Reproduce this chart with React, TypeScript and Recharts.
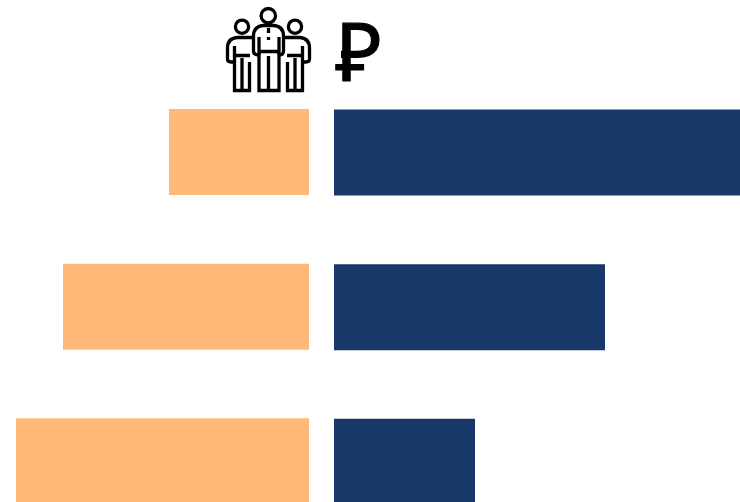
import { BarChart, Bar, XAxis, YAxis } from "recharts";

const categories = ["A", "B", "C"];
const peopleValues = [14.0, 24.6, 29.3];
const moneyValues = [40.6, 27.1, 14.1];

const chartData = categories.map((name, i) => ({
  name,
  people: peopleValues[i],
  money: moneyValues[i],
}));

const CHART_HEIGHT = 540;

function PersonSide({ flip }: { flip?: boolean }) {
  return (
    <g transform={flip ? "translate(537,0) scale(-1,1)" : undefined}>
      <circle cx={242} cy={26.7} r={6.6} />
      <path d="M252,37.5 L237,37.5 Q227.5,38.5 227.5,48 L227.5,59 Q227.5,62 231,62 L234,62 M234.5,46 L234.5,90.5 L249.5,90.5 L249.5,62 M234.5,55.5 L250,55.5 M242,58 L242,90.5" />
    </g>
  );
}

function PeopleIcon() {
  return (
    <svg
      width={740}
      height={100}
      style={{ position: "absolute", left: 0, top: 0 }}
      fill="none"
      stroke="#000"
      strokeWidth={3.3}
    >
      <PersonSide />
      <PersonSide flip />
      <circle cx={268.3} cy={15.7} r={7.2} fill="#fff" />
      <path
        d="M263,25.5 L274,25.5 Q283.5,26.5 283.5,36 L283.5,51 Q283.5,55 279,55 L279,90.5 L259,90.5 L259,55 Q253.5,55 253.5,51 L253.5,36 Q253.5,26.5 263,25.5 Z"
        fill="#fff"
      />
      <path d="M259,37 L259,55 M279,37 L279,55 M259,51.5 L279,51.5 M268.5,56 L268.5,90.5 M268.5,28 L268.5,33 M268.5,37 L268.5,40" />
      <text
        x={335}
        y={81}
        fontFamily="'Liberation Sans', sans-serif"
        fontSize={81}
        fill="#000"
        stroke="#000"
        strokeWidth={1.2}
      >
        ₽
      </text>
      {/* the reference glyph has one crossbar, hide the stub of the upper one */}
      <rect x={334} y={44} width={7} height={16} fill="#fff" stroke="none" />
    </svg>
  );
}

export default function App() {
  return (
    <div
      style={{
        position: "absolute",
        left: 0,
        top: 0,
        width: 740,
        height: 502,
        overflow: "hidden",
        background: "#fff",
      }}
    >
      <div style={{ position: "absolute", left: 0, top: 0 }}>
        <BarChart
          width={309}
          height={CHART_HEIGHT}
          data={chartData}
          layout="vertical"
          margin={{ top: 75, right: 0, bottom: 1, left: 0 }}
        >
          <XAxis type="number" hide reversed domain={[0, 30.9]} />
          <YAxis type="category" dataKey="name" hide />
          <Bar
            dataKey="people"
            fill="#ffba7a"
            barSize={86}
            isAnimationActive={false}
          />
        </BarChart>
      </div>
      <div style={{ position: "absolute", left: 334, top: 0 }}>
        <BarChart
          width={406}
          height={CHART_HEIGHT}
          data={chartData}
          layout="vertical"
          margin={{ top: 75.5, right: 0, bottom: 0.5, left: 0 }}
        >
          <XAxis type="number" hide domain={[0, 40.6]} />
          <YAxis type="category" dataKey="name" hide />
          <Bar
            dataKey="money"
            fill="#173969"
            barSize={86}
            isAnimationActive={false}
          />
        </BarChart>
      </div>
      <PeopleIcon />
    </div>
  );
}
